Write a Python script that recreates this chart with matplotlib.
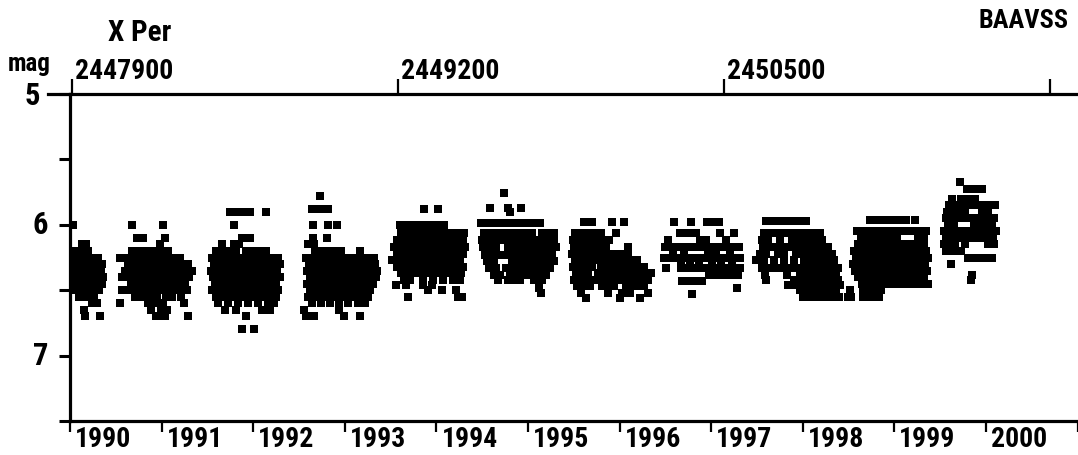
import matplotlib
matplotlib.use('agg')
import matplotlib.pyplot as plt
from matplotlib import font_manager
from matplotlib.lines import Line2D

JD0 = 2440000

# observations per season, grouped in rows: (magnitude, [JD - 2440000, ...])
season_1990 = [
    (6.0, [7905]),
    (6.15, [7941, 7957]),
    (6.2, [7917, 7933, 7965]),
    (6.25, [7909, 7925, 7945, 7973, 7989, 8005]),
    (6.3, [7901, 7913, 7929, 7945, 7957, 7973, 7989, 8005, 8021]),
    (6.35, [7905, 7921, 7937, 7953, 7969, 7985, 8001, 8017]),
    (6.4, [7901, 7917, 7933, 7949, 7965, 7981, 7997, 8013, 8025]),
    (6.45, [7909, 7925, 7941, 7957, 7973, 7989, 8005, 8021]),
    (6.5, [7913, 7933, 7949, 7965, 7981, 7997, 8009]),
    (6.55, [7929, 7957, 7973, 7989]),
    (6.6, [7981, 8001]),
    (6.65, [7949]),
    (6.7, [7953, 8013]),
]

season_1991 = [
    (6.0, [8140, 8264]),
    (6.1, [8160, 8184, 8272]),
    (6.15, [8252]),
    (6.2, [8140, 8164, 8188, 8212, 8236, 8260, 8284]),
    (6.25, [8092, 8116, 8148, 8164, 8196, 8212, 8236, 8268, 8284, 8308, 8332]),
    (6.3, [8124, 8148, 8172, 8204, 8220, 8244, 8276, 8292, 8316, 8340, 8364]),
    (6.35, [8112, 8136, 8160, 8184, 8208, 8240, 8256, 8280, 8304, 8328, 8352, 8379]),
    (6.4, [8100, 8128, 8152, 8176, 8200, 8224, 8248, 8272, 8296, 8320, 8344, 8368]),
    (6.45, [8136, 8168, 8184, 8208, 8232, 8264, 8280, 8312, 8328, 8352]),
    (6.5, [8100, 8124, 8148, 8172, 8196, 8228, 8244, 8268, 8292, 8316, 8340, 8360]),
    (6.55, [8152, 8180, 8212, 8240, 8276, 8300, 8336]),
    (6.6, [8092, 8204, 8232, 8264, 8348]),
    (6.65, [8216, 8256, 8280]),
    (6.7, [8236, 8264, 8270, 8363]),
]

season_1992 = [
    (5.9, [8531, 8543, 8559, 8575, 8595, 8611, 8675]),
    (6.0, [8547]),
    (6.1, [8579, 8611]),
    (6.15, [8499, 8547, 8567]),
    (6.2, [8475, 8495, 8515, 8535, 8555, 8595, 8627, 8651, 8675]),
    (6.25, [8459, 8483, 8507, 8531, 8555, 8579, 8603, 8627, 8651, 8675, 8698, 8722]),
    (6.3, [8467, 8491, 8515, 8539, 8563, 8587, 8611, 8635, 8659, 8683, 8706, 8730]),
    (6.35, [8455, 8479, 8503, 8527, 8551, 8575, 8599, 8623, 8647, 8671, 8694, 8718]),
    (6.4, [8463, 8487, 8511, 8535, 8559, 8583, 8607, 8631, 8655, 8679, 8702, 8730]),
    (6.45, [8471, 8495, 8519, 8543, 8567, 8591, 8615, 8639, 8663, 8687, 8714]),
    (6.5, [8459, 8483, 8507, 8531, 8555, 8579, 8603, 8627, 8651, 8675, 8698, 8722]),
    (6.55, [8475, 8499, 8523, 8547, 8571, 8595, 8619, 8643, 8667, 8690, 8714]),
    (6.6, [8483, 8523, 8563, 8603, 8643, 8683, 8706]),
    (6.65, [8511, 8555, 8659, 8690]),
    (6.7, [8595]),
    (6.8, [8579, 8627]),
]

season_1993 = [
    (5.78, [8890]),
    (5.88, [8858, 8890, 8922]),
    (6.0, [8862, 8922, 8958]),
    (6.1, [8862, 8918]),
    (6.15, [8842, 8866]),
    (6.2, [8870, 8890, 8906, 8922, 8938, 8954, 8974, 9049]),
    (6.25, [8834, 8866, 8890, 8914, 8938, 8962, 8985, 9009, 9033, 9057, 9081, 9105]),
    (6.3, [8846, 8870, 8894, 8918, 8942, 8966, 8989, 9013, 9037, 9061, 9085, 9109]),
    (6.35, [8838, 8858, 8882, 8906, 8930, 8954, 8978, 9001, 9025, 9049, 9073, 9097, 9117]),
    (6.4, [8850, 8874, 8898, 8922, 8946, 8970, 8993, 9017, 9041, 9065, 9089, 9113]),
    (6.45, [8838, 8862, 8886, 8910, 8934, 8958, 8982, 9005, 9029, 9053, 9077, 9101]),
    (6.5, [8850, 8874, 8898, 8922, 8946, 8970, 8993, 9017, 9041, 9065, 9089]),
    (6.55, [8842, 8866, 8890, 8914, 8938, 8962, 8985, 9009, 9033, 9057, 9081]),
    (6.6, [8858, 8894, 8930, 8966, 9001, 9041, 9069]),
    (6.65, [8826, 8966]),
    (6.7, [8834, 8866, 8985, 9049]),
]

season_1994 = [
    (5.88, [9304, 9360]),
    (6.0, [9209, 9229, 9249, 9269, 9288, 9308, 9328, 9348, 9372, 9384]),
    (6.06, [9213, 9237, 9261, 9288, 9312, 9336, 9360, 9384, 9408, 9432, 9452, 9464]),
    (6.12, [9197, 9221, 9245, 9269, 9292, 9316, 9340, 9364, 9388, 9412, 9436, 9460]),
    (6.17, [9185, 9209, 9233, 9257, 9280, 9304, 9328, 9352, 9376, 9400, 9424, 9448, 9468]),
    (6.22, [9197, 9221, 9245, 9269, 9292, 9316, 9340, 9364, 9388, 9412, 9436, 9460]),
    (6.27, [9177, 9209, 9233, 9257, 9280, 9304, 9328, 9352, 9376, 9400, 9424, 9448]),
    (6.32, [9197, 9221, 9245, 9269, 9292, 9316, 9340, 9364, 9388, 9412, 9436, 9460]),
    (6.37, [9213, 9237, 9261, 9284, 9308, 9332, 9356, 9380, 9404, 9428, 9452]),
    (6.42, [9225, 9249, 9300, 9340, 9380, 9420, 9448]),
    (6.46, [9193, 9233, 9300, 9336]),
    (6.5, [9320, 9376, 9432]),
    (6.55, [9241, 9440, 9456]),
]

season_1995 = [
    (5.76, [9623]),
    (5.87, [9568, 9639, 9691]),
    (5.9, [9647]),
    (5.99, [9532, 9552, 9572, 9591, 9611, 9631, 9651, 9671, 9691, 9711, 9731, 9751, 9767]),
    (6.06, [9544, 9568, 9591, 9615, 9639, 9663, 9687, 9711, 9735, 9775, 9799, 9823]),
    (6.12, [9536, 9560, 9583, 9607, 9631, 9655, 9679, 9703, 9727, 9751, 9775, 9799, 9823]),
    (6.17, [9540, 9564, 9591, 9639, 9663, 9687, 9711, 9735, 9759, 9783, 9807, 9831]),
    (6.23, [9548, 9572, 9599, 9623, 9647, 9671, 9695, 9719, 9743, 9767, 9791, 9815]),
    (6.28, [9556, 9583, 9655, 9679, 9703, 9727, 9751, 9775, 9799, 9823]),
    (6.33, [9564, 9591, 9631, 9663, 9687, 9711, 9735, 9759, 9783, 9807]),
    (6.38, [9583, 9607, 9647, 9671, 9695, 9719, 9743, 9767, 9791]),
    (6.42, [9599, 9639, 9655, 9671, 9687, 9743, 9775]),
    (6.48, [9763]),
    (6.52, [9771]),
]

season_1996 = [
    (5.98, [9942, 9958, 9974, 10054, 10102]),
    (6.06, [9906, 9926, 9946, 9966, 9990, 10010, 10070]),
    (6.12, [9898, 9922, 9946, 9970, 9994, 10018, 10042]),
    (6.17, [9902, 9930, 9958, 9982, 10006, 10030, 10118]),
    (6.22, [9894, 9918, 9942, 9966, 9990, 10014, 10046, 10070, 10094, 10118]),
    (6.27, [9906, 9930, 9954, 9978, 10002, 10030, 10058, 10082, 10106, 10130, 10154]),
    (6.32, [9898, 9922, 9946, 9974, 10010, 10038, 10062, 10086, 10110, 10134, 10158, 10182]),
    (6.37, [9910, 9934, 9958, 9998, 10022, 10046, 10070, 10094, 10118, 10142, 10166, 10190, 10209]),
    (6.42, [9902, 9926, 9950, 9978, 10006, 10030, 10054, 10078, 10102, 10126, 10150, 10174, 10198]),
    (6.47, [9914, 9938, 9966, 10014, 10038, 10062, 10110, 10134, 10158, 10182]),
    (6.52, [9930, 10038, 10094, 10126, 10198]),
    (6.56, [9950, 10086, 10166]),
]

season_1997 = [
    (5.98, [10301, 10369, 10433, 10453, 10481]),
    (6.06, [10325, 10341, 10357, 10373, 10389, 10485, 10540]),
    (6.12, [10277, 10405, 10429, 10508]),
    (6.17, [10265, 10285, 10305, 10325, 10345, 10365, 10385, 10405, 10425, 10445,
            10465, 10485, 10505, 10524, 10544, 10560]),
    (6.21, [10297, 10341, 10437, 10469, 10524]),
    (6.25, [10261, 10289, 10309, 10329, 10349, 10369, 10389, 10409, 10429, 10449,
            10469, 10489, 10508, 10528, 10548, 10564]),
    (6.29, [10329, 10365, 10401, 10453, 10489, 10532]),
    (6.33, [10269, 10329, 10349, 10369, 10389, 10409, 10429, 10449, 10469, 10489,
            10508, 10528, 10548, 10564]),
    (6.38, [10441, 10465, 10489, 10512, 10536, 10556]),
    (6.43, [10333, 10349, 10365, 10381, 10397, 10413]),
    (6.48, [10552]),
    (6.53, [10373]),
]

season_1998 = [
    (5.97, [10668, 10684, 10700, 10716, 10732, 10748, 10764, 10780, 10796, 10812, 10828]),
    (6.06, [10660, 10684, 10708, 10740, 10764, 10788, 10812, 10836, 10860, 10883]),
    (6.12, [10652, 10676, 10724, 10772, 10796, 10820, 10844, 10868, 10891]),
    (6.17, [10656, 10680, 10704, 10728, 10752, 10776, 10800, 10824, 10848, 10871, 10895, 10915]),
    (6.22, [10644, 10668, 10716, 10740, 10788, 10812, 10836, 10860, 10883, 10907, 10931]),
    (6.27, [10628, 10660, 10700, 10740, 10780, 10820, 10844, 10867, 10891, 10915, 10939]),
    (6.33, [10652, 10676, 10700, 10724, 10748, 10772, 10796, 10820, 10844, 10867, 10891,
            10915, 10939, 10955]),
    (6.38, [10664, 10752, 10804, 10828, 10851, 10875, 10899, 10923, 10947]),
    (6.42, [10668, 10780, 10812, 10836, 10860, 10883, 10907, 10931, 10955]),
    (6.46, [10756, 10788, 10820, 10844, 10867, 10891, 10915, 10939, 10963]),
    (6.5, [10804, 10828, 10851, 10875, 10899, 10923, 10947]),
    (6.55, [10816, 10840, 10863, 10887, 10911, 10935, 10959, 10995]),
]

season_1999 = [
    (5.96, [11083, 11099, 11115, 11130, 11146, 11162, 11178, 11194, 11210, 11226, 11262]),
    (6.05, [11031, 11051, 11071, 11095, 11119, 11143, 11167, 11191, 11214, 11238, 11262,
            11286, 11306]),
    (6.1, [11047, 11071, 11095, 11119, 11143, 11167, 11191, 11274, 11298]),
    (6.15, [11035, 11059, 11083, 11107, 11130, 11154, 11178, 11202, 11226, 11250, 11274, 11298]),
    (6.2, [11019, 11043, 11067, 11091, 11115, 11138, 11162, 11186, 11210, 11234, 11258,
           11282, 11306]),
    (6.25, [11027, 11051, 11075, 11099, 11122, 11146, 11170, 11194, 11218, 11242, 11266,
            11290, 11314]),
    (6.3, [11015, 11039, 11063, 11087, 11111, 11134, 11158, 11182, 11206, 11230, 11254,
           11278, 11302]),
    (6.35, [11023, 11047, 11071, 11095, 11119, 11143, 11167, 11190, 11214, 11238, 11262,
            11286, 11310]),
    (6.4, [11035, 11059, 11083, 11107, 11130, 11154, 11178, 11202, 11226, 11250, 11274, 11298]),
    (6.45, [11051, 11075, 11099, 11122, 11146, 11170, 11194, 11218, 11242, 11266, 11290, 11314]),
    (6.5, [11003, 11055, 11079, 11103, 11126]),
    (6.55, [11007, 11055, 11071, 11087, 11103, 11119]),
]

season_2000 = [
    (5.67, [11442]),
    (5.73, [11470, 11490, 11514, 11530]),
    (5.8, [11410, 11446, 11478, 11502]),
    (5.85, [11398, 11422, 11446, 11470, 11494, 11518, 11542, 11566, 11582]),
    (5.9, [11390, 11414, 11438, 11462, 11530, 11554]),
    (5.95, [11386, 11410, 11434, 11458, 11482, 11506, 11530, 11554, 11578]),
    (6.0, [11394, 11418, 11498, 11522, 11546, 11570]),
    (6.05, [11378, 11402, 11426, 11450, 11474, 11498, 11522, 11546, 11570, 11586]),
    (6.1, [11386, 11410, 11434, 11458, 11482, 11506, 11530, 11554, 11574]),
    (6.15, [11378, 11398, 11422, 11462, 11554, 11578]),
    (6.2, [11386, 11418, 11446]),
    (6.25, [11474, 11490, 11506, 11522, 11538, 11570]),
    (6.3, [11406]),
    (6.38, [11490]),
    (6.42, [11486]),
]

seasons = [season_1990, season_1991, season_1992, season_1993, season_1994,
           season_1995, season_1996, season_1997, season_1998, season_1999,
           season_2000]

jd_ticks = [2447900, 2449200, 2450500, 2451800]
jd_labels = ['2447900', '2449200', '2450500', '']
year_ticks = [2447892.5, 2448257.5, 2448622.5, 2448988.5, 2449353.5, 2449718.5,
              2450083.5, 2450449.5, 2450814.5, 2451179.5, 2451544.5, 2451910.5]
year_labels = ['1990', '1991', '1992', '1993', '1994', '1995',
               '1996', '1997', '1998', '1999', '2000', '']
mag_ticks = [5, 5.5, 6, 6.5, 7, 7.5]

# narrow bold face for the labels, if one is around
installed = {f.name for f in font_manager.fontManager.ttflist}
narrow = [n for n in ['Liberation Sans Narrow', 'Roboto Condensed',
                      'DejaVu Sans Condensed', 'Open Sans Condensed',
                      'Noto Sans Condensed'] if n in installed]
stretch = 'normal'
if not narrow:
    cond = [f for f in font_manager.fontManager.ttflist
            if str(f.stretch) in ('condensed', 'semi-condensed', '75', '87.5')]
    if cond:
        narrow = [cond[0].name]
        stretch = 'condensed'
plt.rcParams['font.family'] = narrow[:1] + ['DejaVu Sans']
plt.rcParams['font.stretch'] = stretch
plt.rcParams['font.weight'] = 'bold'
fs = 20 if narrow else 14

W, H = 1078, 455
fig = plt.figure(figsize=(W / 100, H / 100), dpi=100)
ax = fig.add_axes([70 / W, 34 / H, 1008 / W, 327 / H])

jd, mag = [], []
for season in seasons:
    for m, days in season:
        for d in days:
            jd.append(JD0 + d)
            mag.append(m)
ax.plot(jd, mag, 's', ms=5.2, color='black', mew=0)

ax.set_xlim(2447892, 2451912)
ax.set_ylim(7.5, 5)

for side in ['left', 'top', 'bottom']:
    ax.spines[side].set_linewidth(2.3)
ax.spines['right'].set_visible(False)

ax.set_xticks(year_ticks)
ax.set_xticklabels([])
ax.tick_params(axis='x', direction='out', length=8, width=1.6)
ax.set_yticks(mag_ticks)
ax.set_yticklabels([])
ax.tick_params(axis='y', direction='out', length=8, width=2.2)

top = ax.secondary_xaxis('top')
top.set_xticks(jd_ticks)
top.set_xticklabels([])
top.tick_params(direction='out', length=11, width=1.6)
top.spines['top'].set_visible(False)

# longer tick at mag 5
ax.add_line(Line2D([-22 / 1008, 0], [1, 1], transform=ax.transAxes,
                   color='black', lw=2.3, clip_on=False))

for x, lab in zip(year_ticks, year_labels):
    ax.annotate(lab, xy=(x, 0), xycoords=('data', 'axes fraction'),
                xytext=(5, -5), textcoords='offset pixels',
                ha='left', va='top', fontsize=fs)

for x, lab in zip(jd_ticks, jd_labels):
    ax.annotate(lab, xy=(x, 1), xycoords=('data', 'axes fraction'),
                xytext=(3, 9), textcoords='offset pixels',
                ha='left', va='bottom', fontsize=fs)

for m, lab in [(6, '6'), (7, '7')]:
    ax.annotate(lab, xy=(0, m), xycoords=('axes fraction', 'data'),
                xytext=(-22, 0), textcoords='offset pixels',
                ha='right', va='center', fontsize=fs + 2)
ax.annotate('5', xy=(0, 5), xycoords=('axes fraction', 'data'),
            xytext=(-30, -2), textcoords='offset pixels',
            ha='right', va='center', fontsize=fs + 2)

fig.text(8 / W, 1 - 64 / H, 'mag', ha='left', va='center', fontsize=fs - 2)
fig.text(140 / W, 1 - 33 / H, 'X Per', ha='center', va='center', fontsize=fs + 1)
fig.text(1068 / W, 1 - 21 / H, 'BAAVSS', ha='right', va='center', fontsize=fs - 1)

fig.savefig('out.png', dpi=100)
